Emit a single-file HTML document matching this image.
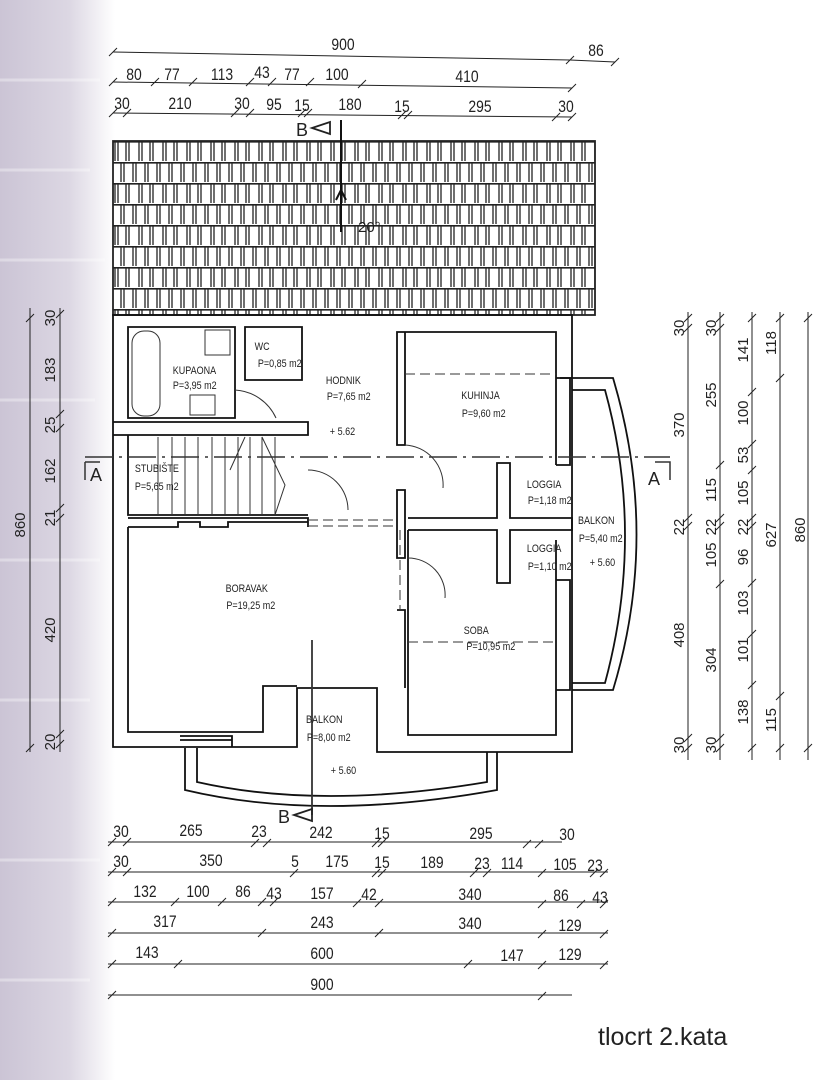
<!DOCTYPE html>
<html><head><meta charset="utf-8"><style>
html,body{margin:0;padding:0;background:#fff}
svg{display:block}
text{font-family:"Liberation Sans Narrow","Liberation Sans",sans-serif;fill:#222}
.n text{transform-box:fill-box;transform-origin:center;transform:scaleX(0.82)}
</style></head><body>
<svg width="826" height="1080" viewBox="0 0 826 1080" xmlns="http://www.w3.org/2000/svg">
<defs>
<linearGradient id="bg" x1="0" x2="1" y1="0" y2="0">
<stop offset="0" stop-color="#cbc4d5"/><stop offset="0.6" stop-color="#dcd7e3"/><stop offset="1" stop-color="#fff"/>
</linearGradient>
<pattern id="tiles" x="113" y="141" width="24" height="42" patternUnits="userSpaceOnUse">
<rect width="24" height="42" fill="#fff"/>
<path d="M0 0.8H24M0 21.8H24" stroke="#222" stroke-width="1.6"/>
<path d="M2 1V20M5 1V20M13 1V20M16 1V20M8 22V41M11 22V41M20 22V41M23 22V41" stroke="#222" stroke-width="1.3"/>
</pattern>
</defs>
<rect x="0" y="0" width="115" height="1080" fill="url(#bg)"/>
<g stroke="#fff" stroke-width="3" opacity="0.35">
<path d="M0 80H100M0 170H90M0 260H105M0 400H95M0 560H100M0 700H90M0 860H100M0 980H90"/>
</g>

<g stroke="#222" stroke-width="1" fill="none">
<path d="M113 52L570 60M570 60L615 62M113 82L572 88M113 113L572 117"/>
<path d="M109 56l8-8M566 64l8-8M611 66l8-8M109 86l8-8M151 86l8-8M189 86l8-8M246 86l8-8M268 86l8-8M306 86l8-8M358 88l8-8M568 92l8-8M109 117l8-8M123 117l8-8M231 117l8-8M246 117l8-8M298 117l8-8M304 117l8-8M398 119l8-8M404 119l8-8M552 121l8-8M568 121l8-8"/>
<path d="M30 308V752M60 308V752M26 322l8-8M56 318l8-8M56 418l8-8M56 432l8-8M56 512l8-8M56 522l8-8M56 738l8-8M56 748l8-8M26 752l8-8"/>
<path d="M688 312V760M720 312V760M752 312V760M780 312V760M808 312V760"/>
<path d="M684 322l8-8M684 332l8-8M684 522l8-8M684 530l8-8M684 742l8-8M684 752l8-8M716 322l8-8M716 332l8-8M716 469l8-8M716 522l8-8M716 530l8-8M716 588l8-8M716 742l8-8M716 752l8-8M748 322l8-8M748 396l8-8M748 448l8-8M748 474l8-8M748 522l8-8M748 530l8-8M748 587l8-8M748 638l8-8M748 689l8-8M748 752l8-8M776 322l8-8M776 382l8-8M776 700l8-8M776 752l8-8M804 322l8-8M804 752l8-8"/>
<path d="M108 842H562M108 872H608M108 902H608M108 933H608M108 964H608M108 995H572"/>
<path d="M108 846l8-8M123 846l8-8M251 847l8-8M263 847l8-8M372 847l8-8M378 847l8-8M523 848l8-8M535 848l8-8M108 876l8-8M123 876l8-8M290 877l8-8M372 877l8-8M378 877l8-8M470 877l8-8M483 877l8-8M538 877l8-8M590 877l8-8M600 877l8-8M108 906l8-8M171 906l8-8M218 906l8-8M258 906l8-8M270 906l8-8M353 907l8-8M375 907l8-8M538 908l8-8M577 908l8-8M600 908l8-8M108 937l8-8M258 937l8-8M375 937l8-8M538 938l8-8M600 938l8-8M108 968l8-8M174 968l8-8M464 968l8-8M538 969l8-8M600 969l8-8M108 999l8-8M538 1000l8-8"/>
</g>

<g class="n" font-size="17" text-anchor="middle">
<text x="343" y="50">900</text><text x="596" y="56">86</text>
<text x="134" y="80">80</text><text x="172" y="80">77</text><text x="222" y="80">113</text><text x="262" y="78">43</text><text x="292" y="80">77</text><text x="337" y="80">100</text><text x="467" y="82">410</text>
<text x="122" y="109">30</text><text x="180" y="109">210</text><text x="242" y="109">30</text><text x="274" y="110">95</text><text x="302" y="111">15</text><text x="350" y="110">180</text><text x="402" y="112">15</text><text x="480" y="112">295</text><text x="566" y="112">30</text>
</g>

<rect x="113" y="141" width="482" height="174" fill="url(#tiles)" stroke="#222" stroke-width="1.8"/>
<path d="M341 120V232M336 200L341 190L346 200" stroke="#111" stroke-width="2" fill="none"/>
<text x="358" y="232" font-size="15">20°</text>
<text x="296" y="136" font-size="18">B</text><path d="M312 128L330 122L330 134Z" fill="none" stroke="#222" stroke-width="1.8"/>

<g stroke="#111" stroke-width="1.8" fill="none">
<path d="M113 315V747H297V688H377V752H572V315Z"/>
<path d="M128 327H235V418H128Z"/>
<path d="M245 327H302V380H245Z"/>
<path d="M113 422H308V435H113"/>
<path d="M128 435V515H308"/>
<path d="M128 518H308V527"/>
<path d="M128 527H178V522H200V527H228V522H308M128 527V732H263V686H297"/>
<path d="M397 332H405V445H397ZM405 332H556V465"/>
<path d="M397 490H405V558H397Z M397 610H405V688"/>
<path d="M408 518H497V463H510V518H572V530H510V583H497V530H408"/>
<path d="M408 530V735H556V540"/>
<path d="M556 378H570V465H556M556 580H570V690H556"/>
<path d="M560 378H613Q660 535 613 690H572M572 390H605Q645 535 605 683H572"/>
<path d="M185 748V790Q320 822 497 790V752M197 748V782Q320 810 487 782V752"/>
<path d="M180 736H232V747M180 740H232"/>
</g>
<g stroke="#333" stroke-width="1" fill="none">
<rect x="132" y="331" width="28" height="85" rx="12"/>
<rect x="205" y="330" width="25" height="25"/>
<rect x="190" y="395" width="25" height="20"/>
<path d="M235 390A48 48 0 0 1 276 418M308 470A40 40 0 0 1 348 510M405 445A40 40 0 0 1 443 488M408 558A37 37 0 0 1 445 598 408 610M300 655A38 38 0 0 1 338 688M376 655A38 38 0 0 0 338 688M300 655V688M376 655V688"/>
<path d="M158 437V515M172 437V515M185 437V515M198 437V515M212 437V515M225 437V515M238 437V515M250 437V515M262 437V515M275 437V515M262 437L285 485L275 515M245 437L230 470"/>
<path d="M308 520H397M308 526H397M405 374H556M408 642H556M400 530V610" stroke-dasharray="10 5"/>
<path d="M85 457H670" stroke-dasharray="28 6 3 6" stroke-width="1.5"/>
<path d="M312 640V815" stroke-width="1.8"/>
<path d="M85 462V480M85 462H100M670 480V462H655" stroke-width="1.5"/>
</g>
<text x="90" y="481" font-size="18">A</text><text x="648" y="485" font-size="18">A</text>
<text x="278" y="823" font-size="18">B</text><path d="M294 815L312 809L312 821Z" fill="none" stroke="#222" stroke-width="1.8"/>

<g class="n" font-size="11">
<text x="168" y="374">KUPAONA</text><text x="168" y="389">P=3,95 m2</text>
<text x="253" y="350">WC</text><text x="253" y="367">P=0,85 m2</text>
<text x="322" y="384">HODNIK</text><text x="322" y="400">P=7,65 m2</text>
<text x="327" y="435">+ 5.62</text>
<text x="457" y="399">KUHINJA</text><text x="457" y="417">P=9,60 m2</text>
<text x="130" y="472">STUBIŠTE</text><text x="130" y="490">P=5,65  m2</text>
<text x="523" y="488">LOGGIA</text><text x="523" y="504">P=1,18 m2</text>
<text x="574" y="524">BALKON</text><text x="574" y="542">P=5,40 m2</text>
<text x="523" y="552">LOGGIA</text><text x="523" y="570">P=1,10 m2</text>
<text x="587" y="566">+ 5.60</text>
<text x="221" y="592">BORAVAK</text><text x="221" y="609">P=19,25 m2</text>
<text x="461" y="634">SOBA</text><text x="461" y="650">P=10,95 m2</text>
<text x="302" y="723">BALKON</text><text x="302" y="741">P=8,00 m2</text>
<text x="328" y="774">+ 5.60</text>
</g>

<g font-size="15" text-anchor="middle">
<text transform="translate(25,525) rotate(-90)">860</text>
<text transform="translate(55,318) rotate(-90)">30</text>
<text transform="translate(55,370) rotate(-90)">183</text>
<text transform="translate(55,425) rotate(-90)">25</text>
<text transform="translate(55,471) rotate(-90)">162</text>
<text transform="translate(55,518) rotate(-90)">21</text>
<text transform="translate(55,630) rotate(-90)">420</text>
<text transform="translate(55,742) rotate(-90)">20</text>
<text transform="translate(684,328) rotate(-90)">30</text>
<text transform="translate(684,425) rotate(-90)">370</text>
<text transform="translate(684,527) rotate(-90)">22</text>
<text transform="translate(684,635) rotate(-90)">408</text>
<text transform="translate(684,745) rotate(-90)">30</text>
<text transform="translate(716,328) rotate(-90)">30</text>
<text transform="translate(716,395) rotate(-90)">255</text>
<text transform="translate(716,490) rotate(-90)">115</text>
<text transform="translate(716,527) rotate(-90)">22</text>
<text transform="translate(716,555) rotate(-90)">105</text>
<text transform="translate(716,660) rotate(-90)">304</text>
<text transform="translate(716,745) rotate(-90)">30</text>
<text transform="translate(748,350) rotate(-90)">141</text>
<text transform="translate(748,413) rotate(-90)">100</text>
<text transform="translate(748,455) rotate(-90)">53</text>
<text transform="translate(748,493) rotate(-90)">105</text>
<text transform="translate(748,527) rotate(-90)">22</text>
<text transform="translate(748,557) rotate(-90)">96</text>
<text transform="translate(748,603) rotate(-90)">103</text>
<text transform="translate(748,650) rotate(-90)">101</text>
<text transform="translate(748,712) rotate(-90)">138</text>
<text transform="translate(776,343) rotate(-90)">118</text>
<text transform="translate(776,535) rotate(-90)">627</text>
<text transform="translate(776,720) rotate(-90)">115</text>
<text transform="translate(805,530) rotate(-90)">860</text>
</g>

<g class="n" font-size="17" text-anchor="middle">
<text x="121" y="837">30</text><text x="191" y="836">265</text><text x="259" y="837">23</text><text x="321" y="838">242</text><text x="382" y="839">15</text><text x="481" y="839">295</text><text x="567" y="840">30</text>
<text x="121" y="867">30</text><text x="211" y="866">350</text><text x="295" y="867">5</text><text x="337" y="867">175</text><text x="382" y="868">15</text><text x="432" y="868">189</text><text x="482" y="869">23</text><text x="512" y="869">114</text><text x="565" y="870">105</text><text x="595" y="871">23</text>
<text x="145" y="897">132</text><text x="198" y="897">100</text><text x="243" y="897">86</text><text x="274" y="899">43</text><text x="322" y="899">157</text><text x="369" y="900">42</text><text x="470" y="900">340</text><text x="561" y="901">86</text><text x="600" y="903">43</text>
<text x="165" y="927">317</text><text x="322" y="928">243</text><text x="470" y="929">340</text><text x="570" y="931">129</text>
<text x="147" y="958">143</text><text x="322" y="959">600</text><text x="512" y="961">147</text><text x="570" y="960">129</text>
<text x="322" y="990">900</text>
</g>
<text x="598" y="1045" font-size="25" font-family="Liberation Sans, sans-serif">tlocrt 2.kata</text>
</svg>
</body></html>
